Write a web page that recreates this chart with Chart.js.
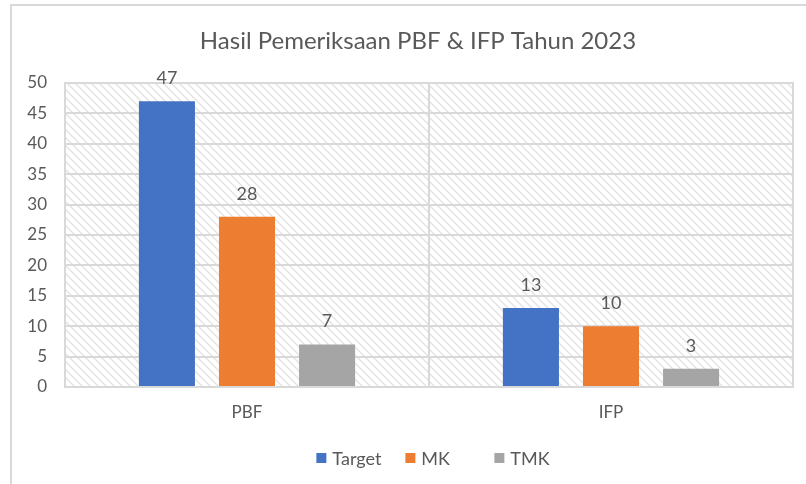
<!DOCTYPE html>
<html>
<head>
<meta charset="utf-8">
<script src="https://cdn.jsdelivr.net/npm/chart.js@4.4.0/dist/chart.umd.min.js"></script>
<style>
html,body{margin:0;padding:0;background:#fff;}
#wrap{width:806px;height:484px;position:relative;}
</style>
</head>
<body>
<div id="wrap"><canvas id="c" width="806" height="484"></canvas></div>
<script>
const categories = ["PBF", "IFP"];
const seriesNames = ["Target", "MK", "TMK"];
const targetValues = [47, 13];
const mkValues = [28, 10];
const tmkValues = [7, 3];
const seriesColors = ["#4472C4", "#ED7D31", "#A5A5A5"];
const yTicks = [0, 5, 10, 15, 20, 25, 30, 35, 40, 45, 50];
const titleText = "Hasil Pemeriksaan PBF & IFP Tahun 2023";

const FONT = "Lato, 'Open Sans', sans-serif";
const TEXT = "#595959";
const GRID = "#d9d9d9";

function makePattern(ctx) {
  const p = document.createElement('canvas');
  p.width = 8; p.height = 8;
  const pc = p.getContext('2d');
  pc.fillStyle = '#ffffff';
  pc.fillRect(0, 0, 8, 8);
  pc.strokeStyle = '#e3e3e3';
  pc.lineWidth = 1.4;
  pc.beginPath();
  pc.moveTo(-2, -2); pc.lineTo(10, 10);
  pc.moveTo(-2, 6); pc.lineTo(2, 10);
  pc.moveTo(6, -2); pc.lineTo(10, 2);
  pc.stroke();
  return ctx.createPattern(p, 'repeat');
}

const decor = {
  id: 'decor',
  beforeDraw(chart) {
    const ctx = chart.ctx;
    const a = chart.chartArea;
    ctx.save();
    ctx.fillStyle = '#fff';
    ctx.fillRect(0, 0, chart.width, chart.height);
    ctx.strokeStyle = GRID;
    ctx.lineWidth = 2;
    ctx.beginPath();
    ctx.moveTo(11, 484); ctx.lineTo(11, 5); ctx.lineTo(806, 5);
    ctx.stroke();
    ctx.fillStyle = makePattern(ctx);
    ctx.fillRect(a.left, a.top, a.right - a.left, a.bottom - a.top);
    ctx.fillStyle = TEXT;
    ctx.font = "24px " + FONT;
    ctx.textAlign = 'center';
    ctx.textBaseline = 'middle';
    ctx.fillText(titleText, 418, 41);
    ctx.restore();
  },
  afterDraw(chart) {
    const ctx = chart.ctx;
    const a = chart.chartArea;
    ctx.save();
    ctx.strokeStyle = GRID;
    ctx.lineWidth = 2;
    ctx.strokeRect(a.left, a.top, a.right - a.left, a.bottom - a.top);
    ctx.fillStyle = TEXT;
    ctx.font = "18px " + FONT;
    ctx.textAlign = 'center';
    ctx.textBaseline = 'middle';
    chart.data.datasets.forEach((ds, di) => {
      chart.getDatasetMeta(di).data.forEach((bar, i) => {
        ctx.fillText(String(ds.data[i]), bar.x, bar.y - 23);
      });
    });
    ctx.font = "18px " + FONT;
    ctx.textBaseline = 'middle';
    ctx.textAlign = 'left';
    const entryW = 89, box = 10, boxGap = 6;
    const dsets = chart.data.datasets;
    const lastW = box + boxGap + ctx.measureText(dsets[dsets.length - 1].label).width;
    const total = entryW * (dsets.length - 1) + lastW;
    let x = 433 - total / 2;
    const y = 458;
    dsets.forEach(ds => {
      ctx.fillStyle = ds.backgroundColor;
      ctx.fillRect(x, y - box / 2, box, box);
      ctx.fillStyle = TEXT;
      ctx.fillText(ds.label, x + box + boxGap, y + 1);
      x += entryW;
    });
    ctx.restore();
  }
};

new Chart(document.getElementById('c'), {
  type: 'bar',
  data: {
    labels: categories,
    datasets: [
      {label: seriesNames[0], data: targetValues, backgroundColor: seriesColors[0]},
      {label: seriesNames[1], data: mkValues, backgroundColor: seriesColors[1]},
      {label: seriesNames[2], data: tmkValues, backgroundColor: seriesColors[2]}
    ]
  },
  options: {
    responsive: false,
    animation: false,
    devicePixelRatio: 1,
    layout: {padding: {top: 83, right: 13, bottom: 57, left: 0}},
    datasets: {bar: {barPercentage: 0.7, categoryPercentage: 0.66}},
    plugins: {legend: {display: false}, title: {display: false}, tooltip: {enabled: false}},
    scales: {
      x: {
        grid: {color: GRID, lineWidth: 2, offset: true, drawTicks: false},
        border: {display: false},
        ticks: {color: TEXT, font: {family: FONT, size: 17}, padding: 15},
        afterFit(s) { s.height = 40; }
      },
      y: {
        min: 0, max: 50,
        afterBuildTicks(s) { s.ticks = yTicks.map(v => ({value: v})); },
        grid: {color: GRID, lineWidth: 2, drawTicks: false},
        border: {display: false},
        ticks: {color: TEXT, font: {family: FONT, size: 17}, padding: 18},
        afterFit(s) { s.width = 65; }
      }
    }
  },
  plugins: [decor]
});
</script>
</body>
</html>
